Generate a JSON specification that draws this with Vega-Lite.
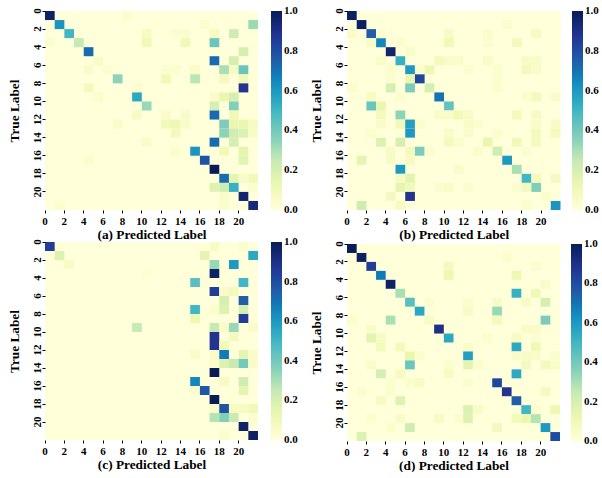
{"$schema":"https://vega.github.io/schema/vega-lite/v6.json","background":"white","padding":{"left":7,"top":7,"right":0,"bottom":0},"autosize":{"type":"pad"},"bounds":"flush","spacing":302,"resolve":{"scale":{"color":"independent"}},"config":{"font":"Liberation Serif","concat":{"spacing":32},"view":{"fill":"#ffffd9","stroke":null},"axis":{"domain":false,"grid":false,"ticks":true,"tickColor":"#000","tickSize":3,"tickWidth":1,"labelFont":"Liberation Serif","labelFontWeight":"bold","labelFontSize":11,"labelColor":"#000","labelPadding":2,"titleFont":"Liberation Serif","titleFontWeight":"bold","titleFontSize":13.3,"titleColor":"#000","bandPosition":0,"labelOverlap":false},"axisX":{"labelAngle":0,"labelAlign":"center","labelBaseline":"top","labelOffset":-4.85,"titlePadding":1},"axisY":{"labelAngle":-90,"labelAlign":"center","labelBaseline":"middle","labelOffset":-4.5,"labelPadding":5,"titlePadding":10},"legend":{"orient":"right","offset":13,"padding":0,"gradientThickness":11,"labelFont":"Liberation Serif","labelFontWeight":"bold","labelFontSize":11,"labelColor":"#000","labelOffset":6}},"datasets":{"a":[{"t":0,"p":0,"v":0.97},{"t":0,"p":8,"v":0.03},{"t":1,"p":1,"v":0.62},{"t":1,"p":16,"v":0.03},{"t":1,"p":21,"v":0.32},{"t":2,"p":2,"v":0.5},{"t":2,"p":10,"v":0.07},{"t":2,"p":13,"v":0.03},{"t":2,"p":14,"v":0.03},{"t":2,"p":17,"v":0.07},{"t":2,"p":19,"v":0.22},{"t":3,"p":0,"v":0.04},{"t":3,"p":3,"v":0.25},{"t":3,"p":10,"v":0.1},{"t":3,"p":14,"v":0.1},{"t":3,"p":17,"v":0.42},{"t":4,"p":4,"v":0.72},{"t":4,"p":20,"v":0.2},{"t":5,"p":5,"v":0.05},{"t":5,"p":17,"v":0.72},{"t":5,"p":19,"v":0.2},{"t":6,"p":4,"v":0.05},{"t":6,"p":6,"v":0.03},{"t":6,"p":12,"v":0.04},{"t":6,"p":13,"v":0.04},{"t":6,"p":15,"v":0.05},{"t":6,"p":18,"v":0.3},{"t":6,"p":19,"v":0.07},{"t":6,"p":20,"v":0.42},{"t":7,"p":7,"v":0.35},{"t":7,"p":12,"v":0.1},{"t":7,"p":15,"v":0.27},{"t":7,"p":18,"v":0.08},{"t":7,"p":20,"v":0.1},{"t":8,"p":4,"v":0.09},{"t":8,"p":9,"v":0.03},{"t":8,"p":20,"v":0.88},{"t":9,"p":5,"v":0.04},{"t":9,"p":9,"v":0.55},{"t":9,"p":17,"v":0.05},{"t":9,"p":18,"v":0.13},{"t":9,"p":19,"v":0.2},{"t":10,"p":10,"v":0.33},{"t":10,"p":17,"v":0.2},{"t":10,"p":19,"v":0.37},{"t":11,"p":9,"v":0.06},{"t":11,"p":12,"v":0.05},{"t":11,"p":14,"v":0.05},{"t":11,"p":17,"v":0.72},{"t":11,"p":19,"v":0.1},{"t":12,"p":7,"v":0.05},{"t":12,"p":12,"v":0.1},{"t":12,"p":13,"v":0.12},{"t":12,"p":14,"v":0.05},{"t":12,"p":18,"v":0.38},{"t":12,"p":19,"v":0.13},{"t":12,"p":20,"v":0.13},{"t":12,"p":21,"v":0.07},{"t":13,"p":13,"v":0.08},{"t":13,"p":18,"v":0.35},{"t":13,"p":19,"v":0.22},{"t":13,"p":20,"v":0.18},{"t":13,"p":21,"v":0.06},{"t":14,"p":10,"v":0.05},{"t":14,"p":17,"v":0.72},{"t":14,"p":19,"v":0.2},{"t":15,"p":13,"v":0.04},{"t":15,"p":15,"v":0.62},{"t":15,"p":18,"v":0.1},{"t":15,"p":20,"v":0.15},{"t":16,"p":4,"v":0.04},{"t":16,"p":16,"v":0.78},{"t":16,"p":20,"v":0.16},{"t":17,"p":17,"v":1.0},{"t":18,"p":18,"v":0.72},{"t":18,"p":19,"v":0.15},{"t":18,"p":20,"v":0.06},{"t":18,"p":21,"v":0.1},{"t":19,"p":17,"v":0.17},{"t":19,"p":18,"v":0.22},{"t":19,"p":19,"v":0.52},{"t":19,"p":21,"v":0.04},{"t":20,"p":18,"v":0.05},{"t":20,"p":20,"v":0.95},{"t":21,"p":1,"v":0.04},{"t":21,"p":18,"v":0.04},{"t":21,"p":21,"v":0.93}],"b":[{"t":0,"p":0,"v":0.98},{"t":1,"p":1,"v":0.98},{"t":1,"p":16,"v":0.03},{"t":2,"p":0,"v":0.05},{"t":2,"p":2,"v":0.75},{"t":2,"p":3,"v":0.03},{"t":2,"p":10,"v":0.06},{"t":2,"p":14,"v":0.04},{"t":2,"p":19,"v":0.07},{"t":3,"p":2,"v":0.06},{"t":3,"p":3,"v":0.65},{"t":3,"p":5,"v":0.03},{"t":3,"p":10,"v":0.1},{"t":3,"p":14,"v":0.03},{"t":3,"p":17,"v":0.08},{"t":4,"p":4,"v":0.95},{"t":4,"p":6,"v":0.05},{"t":5,"p":3,"v":0.05},{"t":5,"p":5,"v":0.52},{"t":5,"p":9,"v":0.09},{"t":5,"p":10,"v":0.05},{"t":5,"p":11,"v":0.05},{"t":5,"p":14,"v":0.05},{"t":5,"p":18,"v":0.06},{"t":5,"p":19,"v":0.06},{"t":6,"p":4,"v":0.04},{"t":6,"p":6,"v":0.6},{"t":6,"p":7,"v":0.03},{"t":6,"p":8,"v":0.12},{"t":6,"p":12,"v":0.04},{"t":6,"p":15,"v":0.04},{"t":6,"p":18,"v":0.08},{"t":6,"p":19,"v":0.05},{"t":7,"p":4,"v":0.03},{"t":7,"p":6,"v":0.13},{"t":7,"p":7,"v":0.82},{"t":7,"p":15,"v":0.04},{"t":8,"p":0,"v":0.04},{"t":8,"p":4,"v":0.2},{"t":8,"p":6,"v":0.38},{"t":8,"p":8,"v":0.2},{"t":8,"p":15,"v":0.04},{"t":9,"p":2,"v":0.07},{"t":9,"p":5,"v":0.04},{"t":9,"p":9,"v":0.7},{"t":9,"p":18,"v":0.04},{"t":9,"p":19,"v":0.08},{"t":9,"p":21,"v":0.05},{"t":10,"p":2,"v":0.42},{"t":10,"p":3,"v":0.13},{"t":10,"p":10,"v":0.43},{"t":11,"p":3,"v":0.08},{"t":11,"p":5,"v":0.35},{"t":11,"p":9,"v":0.05},{"t":11,"p":10,"v":0.05},{"t":11,"p":11,"v":0.1},{"t":11,"p":12,"v":0.06},{"t":11,"p":17,"v":0.09},{"t":11,"p":19,"v":0.06},{"t":12,"p":3,"v":0.05},{"t":12,"p":5,"v":0.1},{"t":12,"p":6,"v":0.58},{"t":12,"p":7,"v":0.04},{"t":12,"p":12,"v":0.05},{"t":12,"p":13,"v":0.03},{"t":12,"p":19,"v":0.05},{"t":12,"p":21,"v":0.06},{"t":13,"p":2,"v":0.04},{"t":13,"p":6,"v":0.6},{"t":13,"p":10,"v":0.05},{"t":13,"p":12,"v":0.05},{"t":13,"p":15,"v":0.04},{"t":13,"p":19,"v":0.09},{"t":13,"p":21,"v":0.09},{"t":14,"p":3,"v":0.18},{"t":14,"p":5,"v":0.2},{"t":14,"p":10,"v":0.08},{"t":14,"p":11,"v":0.04},{"t":14,"p":14,"v":0.13},{"t":14,"p":17,"v":0.1},{"t":14,"p":19,"v":0.08},{"t":15,"p":4,"v":0.06},{"t":15,"p":6,"v":0.08},{"t":15,"p":7,"v":0.38},{"t":15,"p":8,"v":0.03},{"t":15,"p":13,"v":0.03},{"t":15,"p":15,"v":0.22},{"t":15,"p":18,"v":0.03},{"t":16,"p":1,"v":0.15},{"t":16,"p":4,"v":0.06},{"t":16,"p":6,"v":0.07},{"t":16,"p":16,"v":0.6},{"t":17,"p":5,"v":0.6},{"t":17,"p":11,"v":0.05},{"t":17,"p":17,"v":0.3},{"t":18,"p":5,"v":0.07},{"t":18,"p":6,"v":0.16},{"t":18,"p":18,"v":0.5},{"t":18,"p":19,"v":0.08},{"t":18,"p":21,"v":0.08},{"t":19,"p":5,"v":0.15},{"t":19,"p":6,"v":0.1},{"t":19,"p":9,"v":0.03},{"t":19,"p":10,"v":0.05},{"t":19,"p":12,"v":0.03},{"t":19,"p":17,"v":0.03},{"t":19,"p":18,"v":0.08},{"t":19,"p":19,"v":0.37},{"t":20,"p":4,"v":0.08},{"t":20,"p":6,"v":0.88},{"t":20,"p":20,"v":0.03},{"t":21,"p":1,"v":0.22},{"t":21,"p":5,"v":0.07},{"t":21,"p":18,"v":0.04},{"t":21,"p":21,"v":0.62}],"c":[{"t":0,"p":0,"v":0.85},{"t":0,"p":17,"v":0.06},{"t":0,"p":20,"v":0.04},{"t":1,"p":1,"v":0.18},{"t":1,"p":16,"v":0.15},{"t":1,"p":21,"v":0.55},{"t":2,"p":2,"v":0.06},{"t":2,"p":17,"v":0.33},{"t":2,"p":19,"v":0.6},{"t":3,"p":10,"v":0.02},{"t":3,"p":17,"v":0.97},{"t":4,"p":15,"v":0.45},{"t":4,"p":20,"v":0.5},{"t":5,"p":17,"v":0.85},{"t":5,"p":18,"v":0.05},{"t":5,"p":19,"v":0.08},{"t":6,"p":18,"v":0.2},{"t":6,"p":20,"v":0.75},{"t":7,"p":15,"v":0.5},{"t":7,"p":17,"v":0.04},{"t":7,"p":18,"v":0.18},{"t":7,"p":20,"v":0.2},{"t":8,"p":15,"v":0.12},{"t":8,"p":20,"v":0.85},{"t":9,"p":9,"v":0.25},{"t":9,"p":17,"v":0.25},{"t":9,"p":18,"v":0.05},{"t":9,"p":19,"v":0.33},{"t":9,"p":21,"v":0.05},{"t":10,"p":17,"v":0.88},{"t":10,"p":19,"v":0.08},{"t":11,"p":17,"v":0.88},{"t":11,"p":18,"v":0.1},{"t":12,"p":15,"v":0.05},{"t":12,"p":17,"v":0.05},{"t":12,"p":18,"v":0.68},{"t":12,"p":20,"v":0.15},{"t":12,"p":21,"v":0.05},{"t":13,"p":17,"v":0.05},{"t":13,"p":18,"v":0.18},{"t":13,"p":19,"v":0.24},{"t":13,"p":20,"v":0.4},{"t":13,"p":21,"v":0.05},{"t":14,"p":17,"v":1.0},{"t":15,"p":15,"v":0.65},{"t":15,"p":18,"v":0.07},{"t":15,"p":20,"v":0.22},{"t":16,"p":15,"v":0.04},{"t":16,"p":16,"v":0.77},{"t":16,"p":20,"v":0.15},{"t":17,"p":17,"v":1.0},{"t":18,"p":17,"v":0.05},{"t":18,"p":18,"v":0.78},{"t":18,"p":19,"v":0.07},{"t":18,"p":20,"v":0.07},{"t":18,"p":21,"v":0.1},{"t":19,"p":17,"v":0.28},{"t":19,"p":18,"v":0.37},{"t":19,"p":19,"v":0.24},{"t":19,"p":21,"v":0.04},{"t":20,"p":20,"v":0.97},{"t":21,"p":18,"v":0.04},{"t":21,"p":21,"v":0.97}],"d":[{"t":0,"p":0,"v":1.0},{"t":1,"p":1,"v":0.98},{"t":1,"p":16,"v":0.03},{"t":2,"p":2,"v":0.85},{"t":2,"p":10,"v":0.08},{"t":2,"p":19,"v":0.03},{"t":3,"p":3,"v":0.68},{"t":3,"p":10,"v":0.12},{"t":3,"p":17,"v":0.12},{"t":4,"p":4,"v":0.97},{"t":4,"p":20,"v":0.05},{"t":5,"p":5,"v":0.3},{"t":5,"p":17,"v":0.52},{"t":5,"p":19,"v":0.1},{"t":6,"p":6,"v":0.45},{"t":6,"p":8,"v":0.03},{"t":6,"p":12,"v":0.04},{"t":6,"p":15,"v":0.06},{"t":6,"p":18,"v":0.06},{"t":6,"p":20,"v":0.2},{"t":7,"p":7,"v":0.55},{"t":7,"p":12,"v":0.06},{"t":7,"p":15,"v":0.33},{"t":8,"p":0,"v":0.04},{"t":8,"p":4,"v":0.3},{"t":8,"p":8,"v":0.06},{"t":8,"p":15,"v":0.09},{"t":8,"p":20,"v":0.38},{"t":9,"p":2,"v":0.05},{"t":9,"p":9,"v":0.9},{"t":9,"p":18,"v":0.05},{"t":9,"p":19,"v":0.05},{"t":10,"p":2,"v":0.16},{"t":10,"p":3,"v":0.07},{"t":10,"p":10,"v":0.55},{"t":10,"p":14,"v":0.03},{"t":10,"p":17,"v":0.07},{"t":10,"p":19,"v":0.03},{"t":11,"p":3,"v":0.09},{"t":11,"p":5,"v":0.09},{"t":11,"p":12,"v":0.05},{"t":11,"p":17,"v":0.55},{"t":11,"p":19,"v":0.1},{"t":12,"p":6,"v":0.13},{"t":12,"p":7,"v":0.04},{"t":12,"p":12,"v":0.58},{"t":12,"p":17,"v":0.05},{"t":12,"p":18,"v":0.06},{"t":12,"p":19,"v":0.05},{"t":12,"p":21,"v":0.04},{"t":13,"p":2,"v":0.05},{"t":13,"p":6,"v":0.42},{"t":13,"p":10,"v":0.04},{"t":13,"p":12,"v":0.15},{"t":13,"p":13,"v":0.04},{"t":13,"p":18,"v":0.08},{"t":13,"p":20,"v":0.08},{"t":13,"p":21,"v":0.05},{"t":14,"p":3,"v":0.2},{"t":14,"p":5,"v":0.07},{"t":14,"p":10,"v":0.07},{"t":14,"p":17,"v":0.55},{"t":15,"p":4,"v":0.04},{"t":15,"p":6,"v":0.04},{"t":15,"p":7,"v":0.07},{"t":15,"p":12,"v":0.04},{"t":15,"p":15,"v":0.82},{"t":16,"p":1,"v":0.04},{"t":16,"p":4,"v":0.04},{"t":16,"p":16,"v":0.88},{"t":16,"p":20,"v":0.08},{"t":17,"p":3,"v":0.07},{"t":17,"p":5,"v":0.17},{"t":17,"p":17,"v":0.75},{"t":18,"p":12,"v":0.18},{"t":18,"p":13,"v":0.06},{"t":18,"p":18,"v":0.5},{"t":18,"p":19,"v":0.03},{"t":18,"p":21,"v":0.12},{"t":19,"p":2,"v":0.04},{"t":19,"p":5,"v":0.05},{"t":19,"p":9,"v":0.06},{"t":19,"p":11,"v":0.03},{"t":19,"p":12,"v":0.17},{"t":19,"p":17,"v":0.09},{"t":19,"p":18,"v":0.13},{"t":19,"p":19,"v":0.28},{"t":20,"p":4,"v":0.04},{"t":20,"p":6,"v":0.22},{"t":20,"p":15,"v":0.08},{"t":20,"p":20,"v":0.6},{"t":21,"p":1,"v":0.18},{"t":21,"p":21,"v":0.8}]},"hconcat":[{"vconcat":[{"width":213,"height":199,"data":{"name":"a"},"mark":{"type":"rect","strokeWidth":0},"encoding":{"x":{"field":"p","type":"ordinal","scale":{"domain":[0,1,2,3,4,5,6,7,8,9,10,11,12,13,14,15,16,17,18,19,20,21],"paddingInner":0,"paddingOuter":0},"axis":{"title":"(a) Predicted Label","values":[0,2,4,6,8,10,12,14,16,18,20]}},"y":{"field":"t","type":"ordinal","scale":{"domain":[0,1,2,3,4,5,6,7,8,9,10,11,12,13,14,15,16,17,18,19,20,21],"paddingInner":0,"paddingOuter":0},"axis":{"title":"True Label","values":[0,2,4,6,8,10,12,14,16,18,20]}},"color":{"field":"v","type":"quantitative","scale":{"domain":[0,0.125,0.25,0.375,0.5,0.625,0.75,0.875,1],"range":["#ffffd9","#edf8b1","#c7e9b4","#7fcdbb","#41b6c4","#1d91c0","#225ea8","#253494","#081d58"]},"legend":{"title":null,"values":[0,0.2,0.4,0.6,0.8,1],"format":".1f","gradientLength":199,"encoding":{"labels":{"baseline":{"value":"middle"}}}}}}},{"width":213,"height":198,"data":{"name":"c"},"mark":{"type":"rect","strokeWidth":0},"encoding":{"x":{"field":"p","type":"ordinal","scale":{"domain":[0,1,2,3,4,5,6,7,8,9,10,11,12,13,14,15,16,17,18,19,20,21],"paddingInner":0,"paddingOuter":0},"axis":{"title":"(c) Predicted Label","values":[0,2,4,6,8,10,12,14,16,18,20]}},"y":{"field":"t","type":"ordinal","scale":{"domain":[0,1,2,3,4,5,6,7,8,9,10,11,12,13,14,15,16,17,18,19,20,21],"paddingInner":0,"paddingOuter":0},"axis":{"title":"True Label","values":[0,2,4,6,8,10,12,14,16,18,20]}},"color":{"field":"v","type":"quantitative","scale":{"domain":[0,0.125,0.25,0.375,0.5,0.625,0.75,0.875,1],"range":["#ffffd9","#edf8b1","#c7e9b4","#7fcdbb","#41b6c4","#1d91c0","#225ea8","#253494","#081d58"]},"legend":{"title":null,"values":[0,0.2,0.4,0.6,0.8,1],"format":".1f","gradientLength":198,"encoding":{"labels":{"baseline":{"value":"middle"}}}}}}}],"spacing":32,"bounds":"flush","resolve":{"scale":{"color":"independent"}}},{"vconcat":[{"width":213.5,"height":199,"data":{"name":"b"},"mark":{"type":"rect","strokeWidth":0},"encoding":{"x":{"field":"p","type":"ordinal","scale":{"domain":[0,1,2,3,4,5,6,7,8,9,10,11,12,13,14,15,16,17,18,19,20,21],"paddingInner":0,"paddingOuter":0},"axis":{"title":"(b) Predicted Label","values":[0,2,4,6,8,10,12,14,16,18,20]}},"y":{"field":"t","type":"ordinal","scale":{"domain":[0,1,2,3,4,5,6,7,8,9,10,11,12,13,14,15,16,17,18,19,20,21],"paddingInner":0,"paddingOuter":0},"axis":{"title":"True Label","values":[0,2,4,6,8,10,12,14,16,18,20]}},"color":{"field":"v","type":"quantitative","scale":{"domain":[0,0.125,0.25,0.375,0.5,0.625,0.75,0.875,1],"range":["#ffffd9","#edf8b1","#c7e9b4","#7fcdbb","#41b6c4","#1d91c0","#225ea8","#253494","#081d58"]},"legend":{"title":null,"values":[0,0.2,0.4,0.6,0.8,1],"format":".1f","gradientLength":199,"offset":11,"encoding":{"labels":{"baseline":{"value":"middle"}}}}}}},{"width":213,"height":197,"data":{"name":"d"},"mark":{"type":"rect","strokeWidth":0},"encoding":{"x":{"field":"p","type":"ordinal","scale":{"domain":[0,1,2,3,4,5,6,7,8,9,10,11,12,13,14,15,16,17,18,19,20,21],"paddingInner":0,"paddingOuter":0},"axis":{"title":"(d) Predicted Label","values":[0,2,4,6,8,10,12,14,16,18,20]}},"y":{"field":"t","type":"ordinal","scale":{"domain":[0,1,2,3,4,5,6,7,8,9,10,11,12,13,14,15,16,17,18,19,20,21],"paddingInner":0,"paddingOuter":0},"axis":{"title":"True Label","values":[0,2,4,6,8,10,12,14,16,18,20]}},"color":{"field":"v","type":"quantitative","scale":{"domain":[0,0.125,0.25,0.375,0.5,0.625,0.75,0.875,1],"range":["#ffffd9","#edf8b1","#c7e9b4","#7fcdbb","#41b6c4","#1d91c0","#225ea8","#253494","#081d58"]},"legend":{"title":null,"values":[0,0.2,0.4,0.6,0.8,1],"format":".1f","gradientLength":197,"offset":11,"encoding":{"labels":{"baseline":{"value":"middle"}}}}}}}],"spacing":34,"bounds":"flush","resolve":{"scale":{"color":"independent"}}}]}
